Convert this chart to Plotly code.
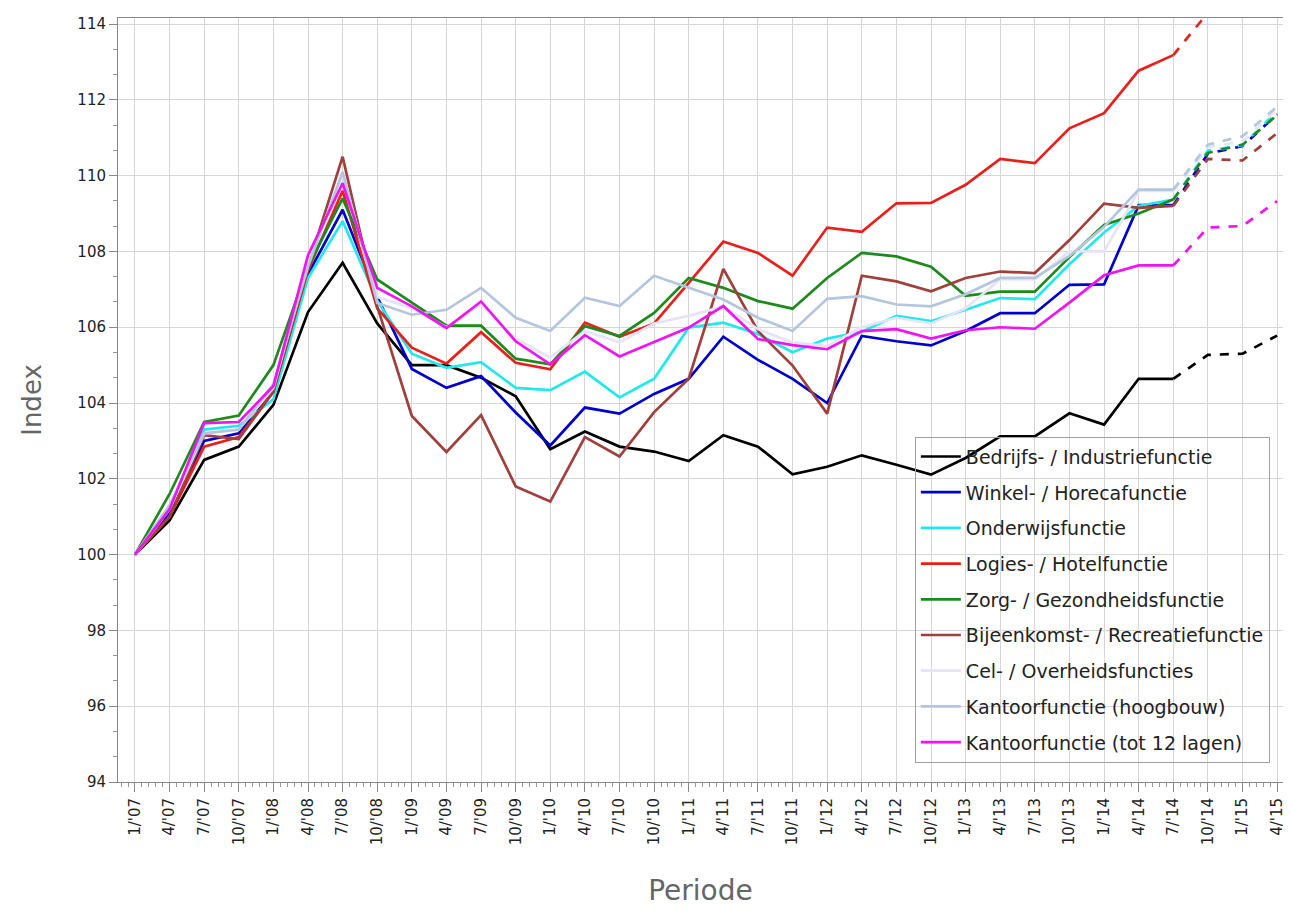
import plotly.graph_objects as go

periods = ["1/'07", "4/'07", "7/'07", "10/'07",
           "1/'08", "4/'08", "7/'08", "10/'08",
           "1/'09", "4/'09", "7/'09", "10/'09",
           "1/'10", "4/'10", "7/'10", "10/'10",
           "1/'11", "4/'11", "7/'11", "10/'11",
           "1/'12", "4/'12", "7/'12", "10/'12",
           "1/'13", "4/'13", "7/'13", "10/'13",
           "1/'14", "4/'14", "7/'14", "10/'14",
           "1/'15", "4/'15"]

forecast_start = "7/'14"   # dashed from this period on

bedrijfs = [100.0, 100.9, 102.5, 102.85, 103.95, 106.4, 107.7, 106.1, 105.0, 105.0, 104.67, 104.18, 102.78,
            103.25, 102.85, 102.72, 102.47, 103.15, 102.85, 102.12, 102.32, 102.62, 102.37, 102.11, 102.55,
            103.12, 103.12, 103.73, 103.43, 104.64, 104.64, 105.27, 105.3, 105.78]
winkel = [100.0, 101.1, 103.0, 103.2, 104.3, 107.4, 109.1, 106.8, 104.9, 104.4, 104.71, 103.75, 102.88,
          103.88, 103.72, 104.24, 104.64, 105.75, 105.14, 104.64, 104.0, 105.77, 105.63, 105.52, 105.9,
          106.37, 106.37, 107.12, 107.13, 109.22, 109.22, 110.58, 110.78, 111.62]
onderwijs = [100.0, 101.2, 103.3, 103.4, 104.1, 107.3, 108.8, 106.7, 105.3, 104.93, 105.08, 104.4, 104.34,
             104.83, 104.15, 104.64, 105.99, 106.12, 105.82, 105.34, 105.7, 105.88, 106.3, 106.16, 106.46,
             106.77, 106.74, 107.66, 108.5, 109.2, 109.37, 110.66, 110.8, 111.7]
logies = [100.0, 101.0, 102.85, 103.1, 104.3, 107.5, 109.6, 106.5, 105.46, 105.04, 105.87, 105.06, 104.89,
          106.12, 105.75, 106.1, 107.17, 108.26, 107.96, 107.36, 108.63, 108.52, 109.27, 109.28, 109.76,
          110.44, 110.33, 111.25, 111.65, 112.77, 113.18, 114.3, 115.0, 115.6]
zorg = [100.0, 101.6, 103.5, 103.67, 105.0, 107.6, 109.4, 107.26, 106.65, 106.04, 106.04, 105.17, 105.02,
        106.03, 105.77, 106.38, 107.3, 107.04, 106.69, 106.49, 107.3, 107.96, 107.87, 107.6, 106.83,
        106.94, 106.94, 107.85, 108.7, 109.0, 109.37, 110.6, 110.82, 111.6]
bijeenkomst = [100.0, 101.0, 103.15, 103.05, 104.3, 107.6, 110.5, 106.55, 103.66, 102.71, 103.68, 101.8, 101.4,
               103.1, 102.59, 103.76, 104.64, 107.54, 105.9, 104.99, 103.72, 107.36, 107.21, 106.95, 107.3,
               107.47, 107.43, 108.3, 109.26, 109.15, 109.2, 110.44, 110.4, 111.12]
cel = [100.0, 101.2, 103.2, 103.3, 104.4, 107.7, 110.0, 106.8, 106.5, 106.0, 106.6, 105.7, 105.2,
       105.9, 105.6, 106.1, 106.3, 106.55, 105.95, 105.6, 105.5, 106.0, 106.25, 106.1, 106.5,
       107.26, 107.26, 108.0, 108.0, 109.6, 109.6, 110.75, 110.9, 111.75]
hoogbouw = [100.0, 101.3, 103.2, 103.3, 104.5, 107.6, 110.1, 106.64, 106.33, 106.46, 107.04, 106.25, 105.9,
            106.78, 106.56, 107.36, 107.04, 106.73, 106.25, 105.9, 106.75, 106.82, 106.6, 106.55, 106.87,
            107.3, 107.3, 107.88, 108.65, 109.63, 109.63, 110.82, 111.04, 111.82]
tot12 = [100.0, 101.2, 103.47, 103.5, 104.45, 107.9, 109.8, 107.04, 106.55, 105.98, 106.68, 105.63, 105.02,
         105.79, 105.23, 105.6, 105.99, 106.56, 105.69, 105.53, 105.42, 105.9, 105.95, 105.7, 105.92,
         106.0, 105.96, 106.65, 107.37, 107.63, 107.63, 108.63, 108.67, 109.33]

series_names = ["Bedrijfs- / Industriefunctie", "Winkel- / Horecafunctie", "Onderwijsfunctie",
                "Logies- / Hotelfunctie", "Zorg- / Gezondheidsfunctie", "Bijeenkomst- / Recreatiefunctie",
                "Cel- / Overheidsfuncties", "Kantoorfunctie (hoogbouw)", "Kantoorfunctie (tot 12 lagen)"]
series_values = [bedrijfs, winkel, onderwijs, logies, zorg, bijeenkomst, cel, hoogbouw, tot12]
series_colors = ["#000000", "#0000CD", "#22E8EE", "#E8201A", "#1E8A1E", "#A0403C",
                 "#E4E4F6", "#B4C6DE", "#F014F0"]

xpos = list(range(len(periods)))
k = periods.index(forecast_start)

fig = go.Figure()
for name, vals, col in zip(series_names, series_values, series_colors):
    fig.add_trace(go.Scatter(x=xpos[:k + 1], y=vals[:k + 1], mode="lines", name=name,
                             legendgroup=name, line=dict(color=col, width=2.7)))
    fig.add_trace(go.Scatter(x=xpos[k:], y=vals[k:], mode="lines", name=name, showlegend=False,
                             legendgroup=name, line=dict(color=col, width=2.7, dash="dash")))

grid = "#D6D6D6"
fig.update_layout(
    width=1283, height=903,
    margin=dict(l=110, r=5, t=10, b=129),
    paper_bgcolor="white", plot_bgcolor="white",
    font=dict(family="DejaVu Sans", color="#333333"),
    showlegend=True,
    legend=dict(x=0.684, y=0.452, xanchor="left", yanchor="top",
                bgcolor="rgba(0,0,0,0)", bordercolor="#A0A0A0", borderwidth=1,
                font=dict(family="DejaVu Sans", size=19, color="#222222"),
                tracegroupgap=8, itemwidth=40),
    xaxis=dict(range=[-0.49, 33.17], tickmode="array", tickvals=xpos, ticktext=periods,
               tickangle=-90, tickfont=dict(size=15, color="#222222"),
               showgrid=True, gridcolor=grid, gridwidth=1, zeroline=False,
               showline=True, linecolor="#888888", linewidth=1, mirror=True,
               ticks="outside", ticklen=9, tickcolor="#888888",
               minor=dict(dtick=0.2, ticks="outside", ticklen=4, tickcolor="#999999", showgrid=False),
               title=dict(text="Periode", font=dict(size=28, color="#666666"), standoff=36)),
    yaxis=dict(range=[94, 114.16], tickmode="linear", tick0=94, dtick=2,
               tickfont=dict(size=15, color="#222222"),
               showgrid=True, gridcolor=grid, gridwidth=1, zeroline=False,
               showline=True, linecolor="#888888", linewidth=1,
               ticks="outside", ticklen=8, tickcolor="#888888",
               minor=dict(tick0=94, dtick=2 / 3, ticks="outside", ticklen=4, tickcolor="#999999", showgrid=False),
               title=dict(text="Index", font=dict(size=26, color="#666666"), standoff=28)),
)

fig.write_html("out.html")
